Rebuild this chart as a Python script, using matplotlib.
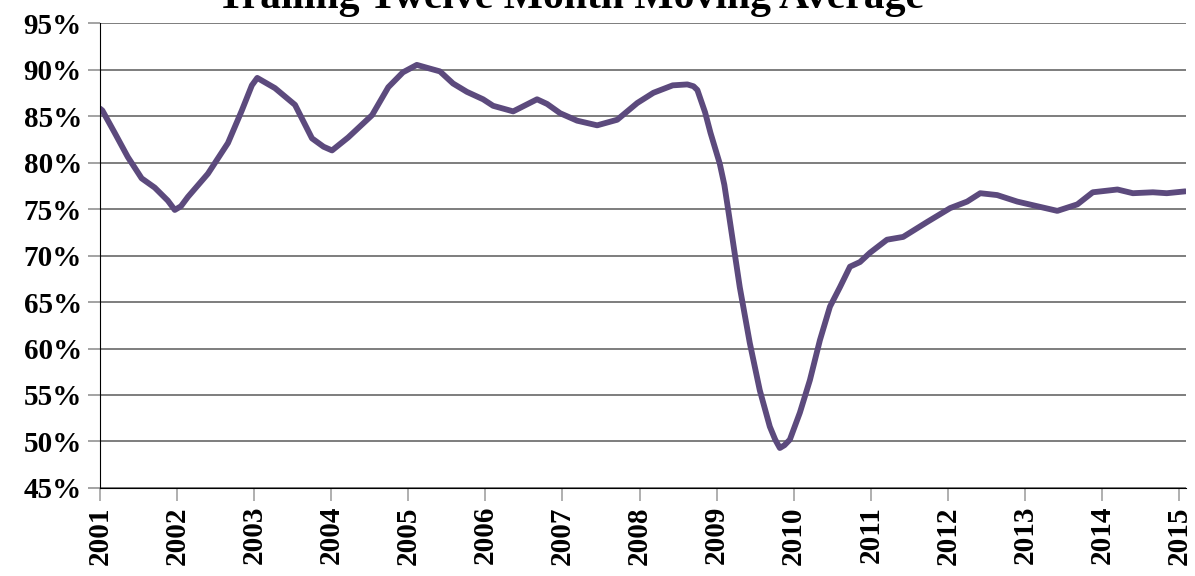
import matplotlib
matplotlib.use('Agg')
import matplotlib.pyplot as plt
from matplotlib.ticker import FuncFormatter

plt.rcParams['font.family'] = ['Liberation Serif', 'DejaVu Serif']
plt.rcParams['font.weight'] = 'bold'

# values (decimal year, percent)
years = [2001.00, 2001.03, 2001.19, 2001.36, 2001.54, 2001.71, 2001.88, 2001.97, 2002.05,
         2002.14, 2002.40, 2002.66, 2002.84, 2002.97, 2003.04, 2003.27, 2003.53, 2003.75,
         2003.90, 2004.01, 2004.22, 2004.53, 2004.74, 2004.93, 2005.11, 2005.28, 2005.41,
         2005.58, 2005.76, 2005.97, 2006.10, 2006.36, 2006.67, 2006.80, 2006.97, 2007.19,
         2007.45, 2007.71, 2007.97, 2008.18, 2008.43, 2008.62, 2008.70, 2008.75, 2008.85,
         2008.92, 2009.04, 2009.10, 2009.15, 2009.30, 2009.43, 2009.56, 2009.69, 2009.76,
         2009.82, 2009.88, 2009.95, 2010.08, 2010.21, 2010.34, 2010.47, 2010.60, 2010.73,
         2010.86, 2010.99, 2011.21, 2011.42, 2011.73, 2012.03, 2012.25, 2012.42, 2012.64,
         2012.90, 2013.16, 2013.42, 2013.68, 2013.88, 2014.20, 2014.40, 2014.66, 2014.84,
         2015.08]
rate = [85.8, 85.6, 83.2, 80.6, 78.3, 77.3, 75.9, 74.9, 75.3,
        76.3, 78.8, 82.1, 85.6, 88.3, 89.1, 88.0, 86.2, 82.6,
        81.7, 81.3, 82.7, 85.1, 88.1, 89.7, 90.5, 90.1, 89.8,
        88.5, 87.6, 86.8, 86.1, 85.5, 86.8, 86.3, 85.3, 84.5,
        84.0, 84.6, 86.4, 87.5, 88.3, 88.4, 88.2, 87.8, 85.4,
        83.2, 79.9, 77.6, 74.9, 66.6, 60.6, 55.5, 51.6, 50.2,
        49.3, 49.6, 50.2, 53.1, 56.6, 60.9, 64.5, 66.6, 68.8,
        69.3, 70.3, 71.7, 72.0, 73.6, 75.1, 75.8, 76.7, 76.5,
        75.8, 75.3, 74.8, 75.5, 76.8, 77.1, 76.7, 76.8, 76.7,
        76.9]

tick_years = list(range(2001, 2016))
y_ticks = list(range(45, 100, 5))

fig = plt.figure(figsize=(11.95, 5.76), dpi=100)
ax = fig.add_axes([0.0837, 0.1528, 0.9088, 0.8072])

ax.plot(years, rate, color='#5c4a7d', linewidth=4.2, solid_capstyle='round',
        solid_joinstyle='round', zorder=3)

ax.set_xlim(2001, 2015.09)
ax.set_ylim(45, 95)
ax.set_xticks(tick_years)
ax.set_xticklabels([str(y) for y in tick_years], rotation=90, fontsize=21,
                   fontweight='bold')
ax.set_yticks(y_ticks)
ax.yaxis.set_major_formatter(FuncFormatter(lambda v, p: '%d%%' % v))
for lab in ax.get_yticklabels():
    lab.set_fontsize(21)
    lab.set_fontweight('bold')

ax.grid(axis='y', color='#5a5a5a', linewidth=1.1)
ax.set_axisbelow(True)
ax.tick_params(axis='y', length=9, color='#8a8a8a', width=1.1, pad=4)
ax.tick_params(axis='x', length=9, color='#9a9a9a', width=1.1, pad=4)
for s in ['top', 'right']:
    ax.spines[s].set_visible(False)
ax.spines['left'].set_color('black')
ax.spines['bottom'].set_color('black')
ax.spines['left'].set_zorder(4)
ax.spines['bottom'].set_zorder(4)

# title sits partly above the top edge, as in the reference
fig.text(0.477, 1 - 8 / 576, 'Trailing Twelve Month Moving Average', ha='center',
         va='baseline', fontsize=30, fontweight='bold')

fig.savefig('out.png', dpi=100)
